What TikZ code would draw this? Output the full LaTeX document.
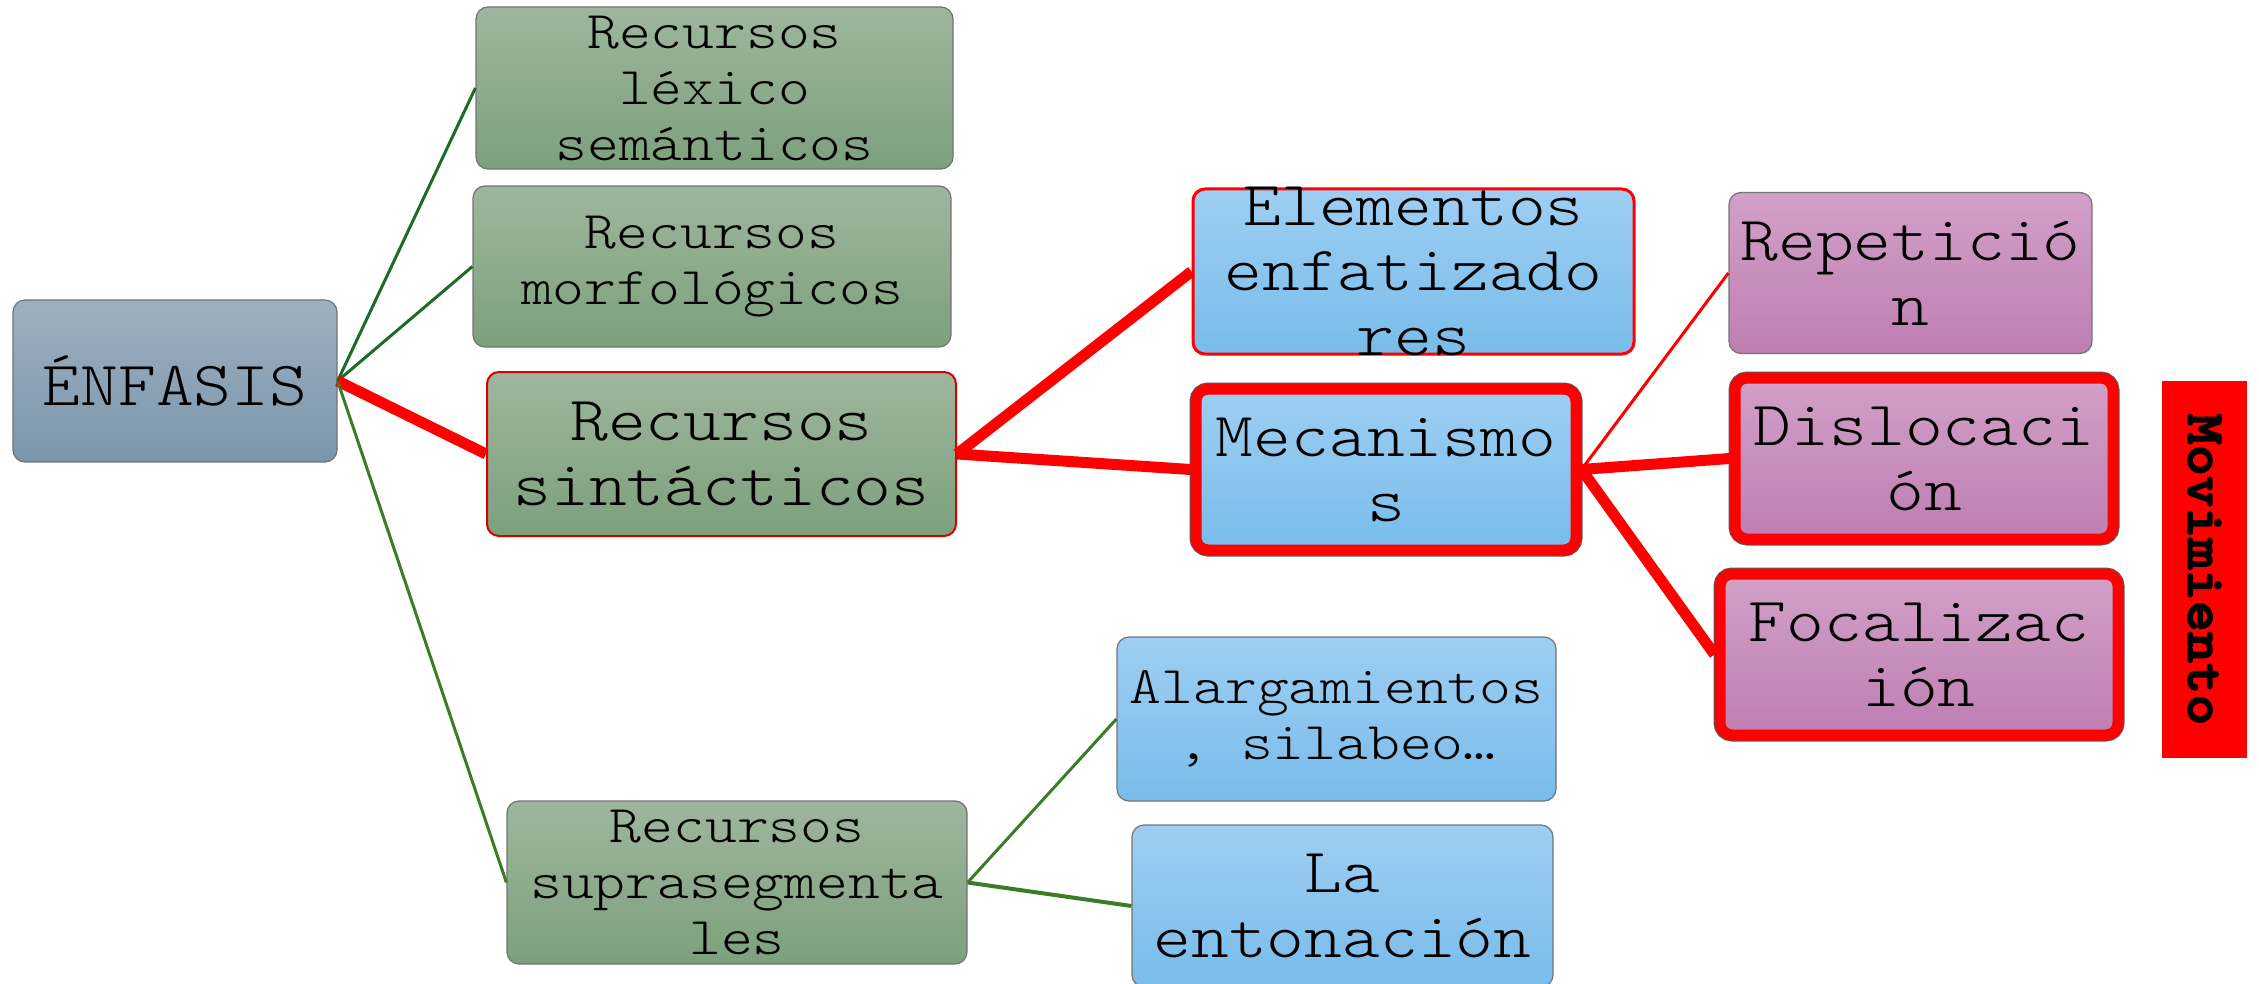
\documentclass[tikz,border=0pt]{standalone}
\usepackage{fontspec}
\newfontfamily\cour[FakeStretch=1.143]{lmmonolt10-regular.otf}
\newfontfamily\courbold[FakeStretch=1.1,FakeBold=3]{lmmonolt10-bold.otf}
\definecolor{grnT}{RGB}{158,182,158}
\definecolor{grnB}{RGB}{124,160,124}
\definecolor{bluT}{RGB}{158,206,242}
\definecolor{bluB}{RGB}{120,188,234}
\definecolor{pnkT}{RGB}{210,160,200}
\definecolor{pnkB}{RGB}{190,126,178}
\definecolor{gryT}{RGB}{158,176,192}
\definecolor{gryB}{RGB}{122,150,172}
\definecolor{lineA}{RGB}{28,108,40}
\definecolor{lineB}{RGB}{60,124,36}
\definecolor{pureRed}{RGB}{255,0,0}
\begin{document}
\begin{tikzpicture}[x=1pt,y=-1pt,
  box/.style={rounded corners=12pt, draw=black!55, line width=1.2pt, inner sep=0pt},
  greenbox/.style={box, top color=grnT, bottom color=grnB},
  bluebox/.style={box, top color=bluT, bottom color=bluB},
  pinkbox/.style={box, top color=pnkT, bottom color=pnkB},
  greybox/.style={box, top color=gryT, bottom color=gryB},
  redthin/.style={draw=pureRed, line width=3pt},
  redthick/.style={preaction={draw=black!65, line width=13pt}, draw=pureRed, line width=11pt},
  txtbig/.style={font=\cour\fontsize{63}{65}\selectfont, align=center, inner sep=0pt},
  txtsmall/.style={font=\cour\fontsize{53}{56}\selectfont, align=center, inner sep=0pt},
  gline/.style={draw=lineA, line width=3pt},
  gline2/.style={draw=lineB, line width=3pt},
  rline/.style={draw=pureRed, line width=11pt},
  rlinethin/.style={draw=pureRed, line width=3pt}
]
\useasboundingbox (0,0) rectangle (2259,984);

% boxes
\node[greybox, minimum width=324pt, minimum height=162pt] (enfasis) at (175,381) {};
\node[greenbox, minimum width=477pt, minimum height=162pt] (lexico) at (714.5,88) {};
\node[greenbox, minimum width=478pt, minimum height=161pt] (morfo) at (712,266.5) {};
\node[greenbox, draw=pureRed!85!black, line width=2pt, minimum width=469pt, minimum height=164pt] (sintac) at (721.5,454) {};
\node[greenbox, minimum width=460pt, minimum height=163pt] (supra) at (737,882.5) {};
\node[bluebox, redthin, minimum width=441pt, minimum height=165pt] (elem) at (1413.5,271.5) {};
\node[bluebox, redthick, minimum width=380pt, minimum height=161pt] (meca) at (1386,469.5) {};
\node[bluebox, minimum width=439pt, minimum height=164pt] (alarg) at (1336.5,719) {};
\node[bluebox, minimum width=421pt, minimum height=162pt] (enton) at (1342.5,906) {};
\node[pinkbox, minimum width=363pt, minimum height=161pt] (repet) at (1910.5,273) {};
\node[pinkbox, redthick, minimum width=378pt, minimum height=161pt] (disloc) at (1924,458.5) {};
\node[pinkbox, redthick, minimum width=398pt, minimum height=161pt] (focal) at (1919,654.5) {};
\node[fill=pureRed, inner sep=0pt, minimum width=85pt, minimum height=377pt] (movim) at (2204.5,569.5) {};

% texts
\node[txtbig] (enfasis-t) at (enfasis) {ÉNFASIS};
\node[txtsmall] (lexico-t) at (lexico) {Recursos\\léxico\\semánticos};
\node[txtsmall] (morfo-t) at (morfo) {Recursos\\morfológicos};
\node[txtbig] (sintac-t) at (sintac) {Recursos\\sintácticos};
\node[txtsmall] (supra-t) at (supra) {Recursos\\suprasegmenta\\les};
\node[txtbig] (elem-t) at (elem) {Elementos\\enfatizado\\res};
\node[txtbig] (meca-t) at (meca) {Mecanismo\\s};
\node[txtsmall] (alarg-t) at (alarg) {Alargamientos\\, silabeo…};
\node[txtbig] (enton-t) at (enton) {La\\entonación};
\node[txtbig] (repet-t) at (repet) {Repetició\\n};
\node[txtbig] (disloc-t) at (disloc) {Dislocaci\\ón};
\node[txtbig] (focal-t) at (focal) {Focalizac\\ión};
\node[rotate=-90, inner sep=0pt, font=\courbold\fontsize{54}{56}\selectfont] (movim-t) at (movim) {Movimiento};

% connectors
\draw[gline] (enfasis.east) -- (lexico.west);
\draw[gline] (enfasis.east) -- (morfo.west);
\draw[rline] (enfasis.east) -- (sintac.west);
\draw[gline2] (enfasis.east) -- (supra.west);
\draw[rline] (sintac.east) -- (elem.west);
\draw[rline] (sintac.east) -- (meca.west);
\draw[rlinethin] (meca.east) -- (repet.west);
\draw[rline] (meca.east) -- (disloc.west);
\draw[rline] (meca.east) -- (focal.west);
\draw[gline2] (supra.east) -- (alarg.west);
\draw[gline2, line width=4pt] (supra.east) -- (enton.west);
\end{tikzpicture}
\end{document}
